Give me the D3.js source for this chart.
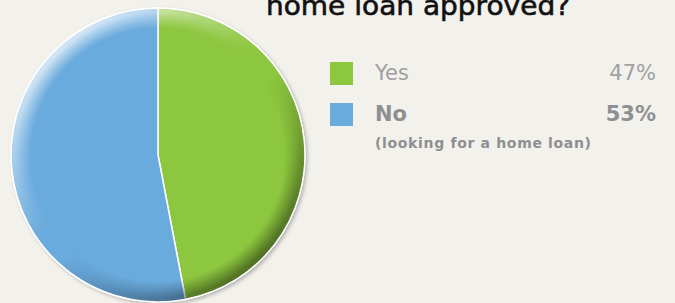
<html>
<head>
    <meta charset="UTF-8" />
    <script src="https://d3js.org/d3.v7.min.js"></script>
    <style>
        body { margin: 0; background: #f2f1ec; }
        svg { display: block; }
        .title { font-family: "DejaVu Sans", sans-serif; font-size: 27px; fill: #111; stroke: #111; stroke-width: 0.6; }
        .legend { font-family: "DejaVu Sans", sans-serif; fill: #a0a0a2; }
        .strong { fill: #8f8f92; }
    </style>
</head>
<body>
    <svg id="svg" width="675" height="303"></svg>
    <script>
        // data
        const categories = ["Yes", "No"];
        const values = [47, 53];
        const labels = ["47%", "53%"];
        const colors = ["#8dc63f", "#6aabdd"];

        const svg = d3.select("svg#svg");
        const defs = svg.append("defs");

        const cx = 158, cy = 155, r = 147;

        // bevel overlay: light top-left, dark bottom-right, only near the rim
        const lg = defs.append("linearGradient").attr("id", "shade")
            .attr("x1", "0.15").attr("y1", "0.1").attr("x2", "0.85").attr("y2", "0.9");
        lg.append("stop").attr("offset", "0").attr("stop-color", "#fff").attr("stop-opacity", 0.75);
        lg.append("stop").attr("offset", "0.45").attr("stop-color", "#fff").attr("stop-opacity", 0);
        lg.append("stop").attr("offset", "0.55").attr("stop-color", "#000").attr("stop-opacity", 0);
        lg.append("stop").attr("offset", "1").attr("stop-color", "#000").attr("stop-opacity", 0.45);

        const rg = defs.append("radialGradient").attr("id", "rim");
        rg.append("stop").attr("offset", "0.86").attr("stop-color", "#fff").attr("stop-opacity", 0);
        rg.append("stop").attr("offset", "0.97").attr("stop-color", "#fff").attr("stop-opacity", 1);
        rg.append("stop").attr("offset", "1").attr("stop-color", "#fff").attr("stop-opacity", 1);
        defs.append("mask").attr("id", "rimMask")
            .attr("maskUnits", "userSpaceOnUse")
            .attr("x", 0).attr("y", 0).attr("width", 675).attr("height", 303)
          .append("circle").attr("cx", cx).attr("cy", cy).attr("r", r)
            .attr("fill", "url(#rim)");

        const shadow = defs.append("filter").attr("id", "drop")
            .attr("x", "-10%").attr("y", "-10%").attr("width", "125%").attr("height", "125%");
        shadow.append("feDropShadow").attr("dx", 2).attr("dy", 2).attr("stdDeviation", 2)
            .attr("flood-color", "#000").attr("flood-opacity", 0.3);

        const pie = d3.pie().sort(null).value(d => d);
        const arc = d3.arc().innerRadius(0).outerRadius(r);

        const g = svg.append("g").attr("transform", "translate(" + cx + "," + cy + ")");

        g.append("circle").attr("r", r).attr("fill", "#fff").attr("filter", "url(#drop)");

        g.selectAll("path.slice").data(pie(values))
            .join("path")
            .attr("class", "slice")
            .attr("d", arc)
            .attr("fill", (d, i) => colors[i])
            .attr("stroke", "#fff")
            .attr("stroke-width", 1.5);

        svg.append("circle")
            .attr("cx", cx).attr("cy", cy).attr("r", r)
            .attr("fill", "url(#shade)")
            .attr("mask", "url(#rimMask)");

        svg.append("circle")
            .attr("cx", cx).attr("cy", cy).attr("r", r)
            .attr("fill", "none").attr("stroke", "#fff").attr("stroke-width", 1.2);

        // title (its first line sits above the view, as in the original)
        svg.append("text").attr("class", "title")
            .attr("x", 266).attr("y", 15)
            .attr("textLength", 304)
            .attr("lengthAdjust", "spacingAndGlyphs")
            .text("home loan approved?");

        // legend
        const rows = svg.append("g");
        const y = d3.scalePoint().domain(categories).range([62, 103]);

        rows.selectAll("rect").data(categories)
            .join("rect")
            .attr("x", 330).attr("y", d => y(d))
            .attr("width", 23).attr("height", 23)
            .attr("fill", (d, i) => colors[i]);

        rows.selectAll("text.cat").data(categories)
            .join("text")
            .attr("class", (d, i) => i === 1 ? "legend cat strong" : "legend cat")
            .attr("x", 375).attr("y", d => y(d) + 18)
            .attr("font-size", 21)
            .attr("font-weight", (d, i) => i === 1 ? 700 : 400)
            .text(d => d);

        rows.selectAll("text.pct").data(labels)
            .join("text")
            .attr("class", (d, i) => i === 1 ? "legend pct strong" : "legend pct")
            .attr("x", 656).attr("y", (d, i) => y(categories[i]) + 18)
            .attr("text-anchor", "end")
            .attr("font-size", 21)
            .attr("font-weight", (d, i) => i === 1 ? 700 : 400)
            .text(d => d);

        rows.append("text")
            .attr("class", "legend strong")
            .attr("x", 375).attr("y", 148)
            .attr("font-size", 14)
            .attr("font-weight", 700)
            .attr("textLength", 216)
            .attr("lengthAdjust", "spacing")
            .text("(looking for a home loan)");
    </script>
</body>
</html>
